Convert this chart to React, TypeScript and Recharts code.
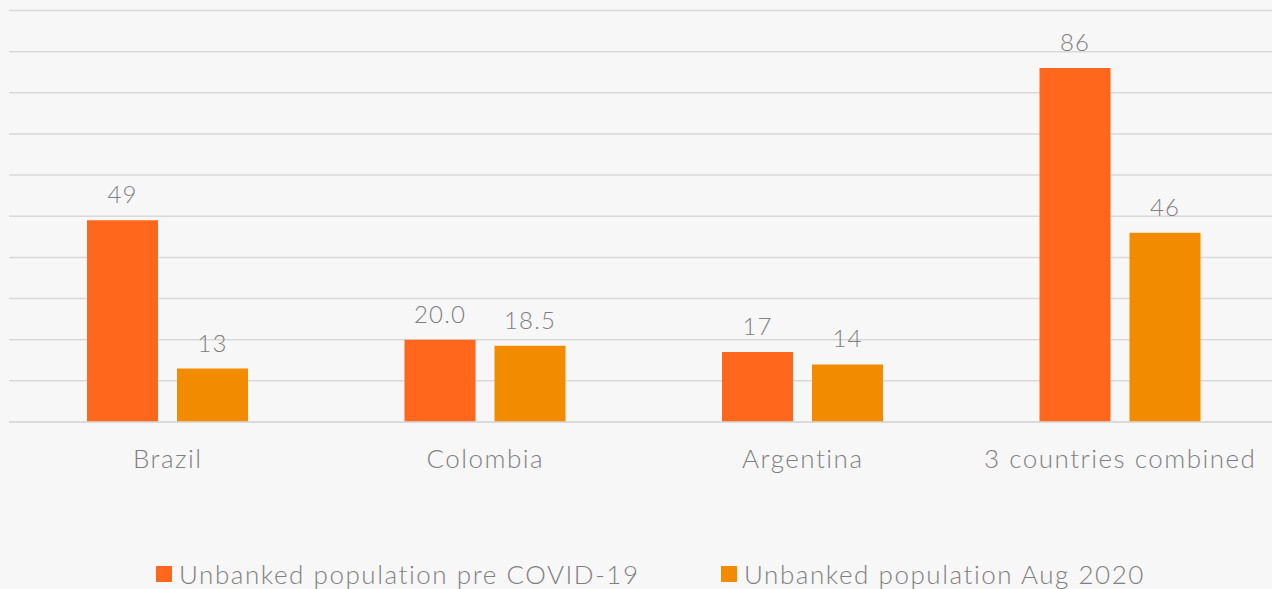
import { BarChart, Bar, XAxis, YAxis, CartesianGrid, LabelList } from "recharts";

const categories = ["Brazil", "Colombia", "Argentina", "3 countries combined"];
const preCovid = [49, 20.0, 17, 86];
const aug2020 = [13, 18.5, 14, 46];
const decimals = [0, 1, 0, 0];
const yTicks = [0, 10, 20, 30, 40, 50, 60, 70, 80, 90, 100];

const SERIES = [
  { key: "pre", name: "Unbanked population pre COVID-19", color: "#FF671C" },
  { key: "aug", name: "Unbanked population Aug 2020", color: "#F28B00" },
];

const data = categories.map((name, i) => ({
  name,
  pre: preCovid[i],
  aug: aug2020[i],
}));

const FONT = "Lato, 'Noto Sans', sans-serif";
const TEXT = "#808080";

export default function App() {
  const fmt = (idx: number, v: number) => v.toFixed(decimals[idx] ?? 0);

  return (
    <div
      style={{
        position: "fixed",
        inset: 0,
        background: "#f7f7f7",
        overflow: "hidden",
        fontFamily: FONT,
      }}
    >
      <BarChart
        width={1280}
        height={500}
        data={data}
        margin={{ top: 10.5, right: 1, bottom: 18, left: 9 }}
        barSize={71}
        barGap={19}
      >
        <CartesianGrid vertical={false} stroke="#d9d9d9" strokeWidth={1.5} />
        <XAxis
          dataKey="name"
          axisLine={{ stroke: "#d9d9d9", strokeWidth: 1.5 }}
          tickLine={false}
          height={60}
          tickMargin={22}
          tick={{
            fill: TEXT,
            fontSize: 26,
            fontWeight: 300,
            fontFamily: FONT,
            letterSpacing: 1.5,
          }}
        />
        <YAxis hide domain={[0, 100]} ticks={yTicks} width={0} />
        {SERIES.map((s) => (
          <Bar
            key={s.key}
            dataKey={s.key}
            name={s.name}
            fill={s.color}
            isAnimationActive={false}
          >
            <LabelList
              dataKey={s.key}
              content={(props: any) => {
                const { x, y, width, index, value } = props;
                return (
                  <text
                    x={x + width / 2}
                    y={y - 17}
                    textAnchor="middle"
                    fill={TEXT}
                    fontSize={24}
                    fontWeight={300}
                    fontFamily={FONT}
                    letterSpacing={1.2}
                  >
                    {fmt(index, value)}
                  </text>
                );
              }}
            />
          </Bar>
        ))}
      </BarChart>

      {/* Legend */}
      <div
        style={{
          position: "absolute",
          top: 561,
          left: 0,
          width: 1272,
          lineHeight: "26px",
          fontSize: 26,
          fontWeight: 300,
          color: TEXT,
          letterSpacing: 1.55,
        }}
      >
        {SERIES.map((s, i) => (
          <div
            key={s.key}
            style={{
              position: "absolute",
              left: i === 0 ? 156 : 721,
              top: 0,
              display: "flex",
              alignItems: "center",
              whiteSpace: "nowrap",
            }}
          >
            <span
              style={{
                display: "inline-block",
                width: 16,
                height: 16,
                background: s.color,
                marginRight: 7,
              }}
            />
            <span>{s.name}</span>
          </div>
        ))}
      </div>
    </div>
  );
}
